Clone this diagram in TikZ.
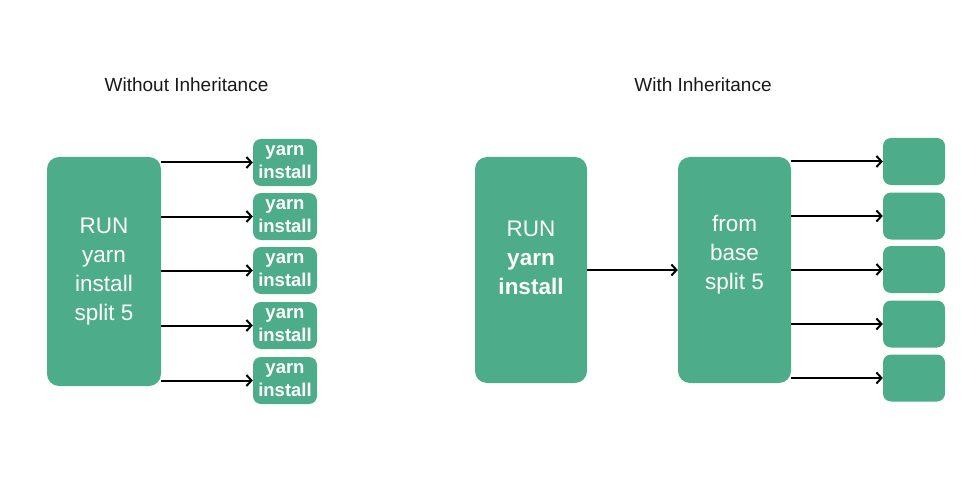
\documentclass[tikz,border=0pt]{standalone}
\usepackage{fontspec}
\setmainfont{Liberation Sans}
\usetikzlibrary{arrows.meta}
\definecolor{boxgreen}{HTML}{4DAC89}
\tikzset{
  bigbox/.style={fill=boxgreen, rounded corners=12pt, text=white, align=center,
    font=\fontsize{22.5}{29}\selectfont, inner sep=0pt},
  smallbox/.style={fill=boxgreen, rounded corners=8pt, text=white, align=center,
    font=\bfseries\fontsize{18.5}{23}\selectfont, inner sep=0pt,
    minimum height=47pt},
  arr/.style={draw=black, line width=2pt, -{Straight Barb[length=5pt,width=11pt]}},
  title/.style={font=\fontsize{19}{22}\selectfont, text=black!90}
}
\begin{document}
\begin{tikzpicture}[x=1pt,y=-1pt]
\useasboundingbox (0,0) rectangle (980,500);
% titles
\node[title] (t1) at (186.5,85) {Without Inheritance};
\node[title] (t2) at (703,85) {With Inheritance};
% left side
\node[bigbox, minimum width=114pt, minimum height=229pt] (L) at (104,271.5) {RUN\\yarn\\install\\split 5};
\node[smallbox, minimum width=64pt] (s1) at (285,162.5) {yarn\\install};
\node[smallbox, minimum width=64pt] (s2) at (285,216.5) {yarn\\install};
\node[smallbox, minimum width=64pt] (s3) at (285,270.5) {yarn\\install};
\node[smallbox, minimum width=64pt] (s4) at (285,325.5) {yarn\\install};
\node[smallbox, minimum width=64pt] (s5) at (285,380.5) {yarn\\install};
\foreach \i in {1,...,5}{
  \draw[arr] (L.east |- s\i.west) -- (s\i.west);
}
% right side
\node[bigbox, minimum width=112pt, minimum height=226pt, text depth=24pt] (R) at (531,270) {RUN\\\textbf{yarn}\\\textbf{install}};
\node[bigbox, minimum width=113pt, minimum height=226pt, text depth=36pt] (B) at (734.5,270) {from\\base\\split 5};
\node[smallbox, minimum width=62pt] (r1) at (914,161.5) {};
\node[smallbox, minimum width=62pt] (r2) at (914,216) {};
\node[smallbox, minimum width=62pt] (r3) at (914,269.5) {};
\node[smallbox, minimum width=62pt] (r4) at (914,324) {};
\node[smallbox, minimum width=62pt] (r5) at (914,378) {};
\draw[arr] (R.east) -- (B.west);
\foreach \i in {1,...,5}{
  \draw[arr] (B.east |- r\i.west) -- (r\i.west);
}
\end{tikzpicture}
\end{document}
